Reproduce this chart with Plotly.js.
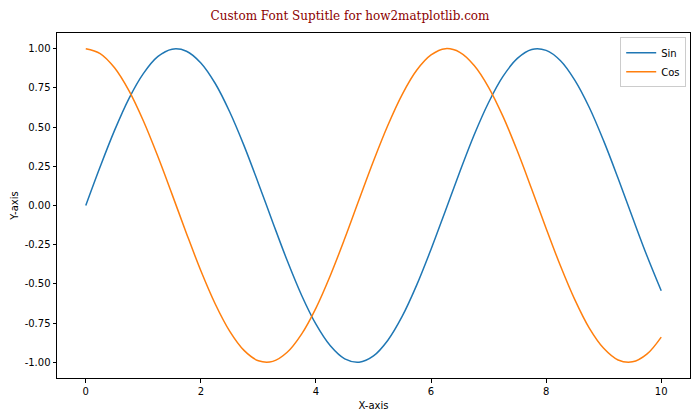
<!DOCTYPE html>
<html>
<head>
<meta charset="utf-8">
<script src="https://cdn.plot.ly/plotly-3.0.1.min.js"></script>
<style>body{margin:0;padding:0;background:#fff}#chart{width:700px;height:420px}</style>
</head>
<body>
<div id="chart"></div>
<script>
const xValues = [0,0.25,0.5,0.75,1,1.25,1.5,1.75,2,2.25,2.5,2.75,3,3.25,3.5,3.75,4,4.25,4.5,4.75,5,5.25,5.5,5.75,6,6.25,6.5,6.75,7,7.25,7.5,7.75,8,8.25,8.5,8.75,9,9.25,9.5,9.75,10];
const sinValues = [0,0.247,0.479,0.682,0.841,0.949,0.997,0.984,0.909,0.778,0.598,0.382,0.141,-0.108,-0.351,-0.572,-0.757,-0.895,-0.978,-0.999,-0.959,-0.859,-0.706,-0.508,-0.279,-0.033,0.215,0.451,0.657,0.823,0.938,0.995,0.989,0.923,0.798,0.625,0.412,0.174,-0.075,-0.319,-0.544];
const cosValues = [1,0.969,0.878,0.732,0.540,0.315,0.071,-0.178,-0.416,-0.628,-0.801,-0.924,-0.990,-0.994,-0.936,-0.820,-0.654,-0.446,-0.211,0.038,0.284,0.512,0.709,0.862,0.960,1.000,0.977,0.893,0.754,0.568,0.347,0.104,-0.146,-0.386,-0.602,-0.782,-0.911,-0.985,-0.997,-0.948,-0.839];
const seriesNames = ["Sin", "Cos"];
const yTickVals = [-1,-0.75,-0.5,-0.25,0,0.25,0.5,0.75,1];
const yTickText = ["-1.00","-0.75","-0.50","-0.25","0.00","0.25","0.50","0.75","1.00"];
const xTickVals = [0,2,4,6,8,10];

const traces = [
  {x: xValues, y: sinValues, name: seriesNames[0], mode: 'lines', line: {color: '#1f77b4', width: 1.5, shape: 'spline', smoothing: 1}},
  {x: xValues, y: cosValues, name: seriesNames[1], mode: 'lines', line: {color: '#ff7f0e', width: 1.5, shape: 'spline', smoothing: 1}}
];
const axisCommon = {
  showgrid: false, zeroline: false, showline: true, mirror: true,
  linecolor: '#000', linewidth: 1, ticks: 'outside', ticklen: 3.5, tickwidth: 1, tickcolor: '#000',
  tickfont: {family: 'DejaVu Sans', size: 10, color: '#000'}
};
const layout = {
  width: 700, height: 420,
  margin: {l: 57, r: 10, t: 33, b: 42},
  paper_bgcolor: '#fff', plot_bgcolor: '#fff',
  title: {text: 'Custom Font Suptitle for how2matplotlib.com', font: {family: 'DejaVu Serif', size: 12, color: '#8b0000'}, x: 0.5, xanchor: 'center', y: 0.962, yanchor: 'middle'},
  xaxis: Object.assign({}, axisCommon, {range: [-0.5, 10.5], tickvals: xTickVals,
    title: {text: 'X-axis', font: {family: 'DejaVu Sans', size: 10, color: '#000'}, standoff: 6}}),
  yaxis: Object.assign({}, axisCommon, {range: [-1.1, 1.1], tickvals: yTickVals, ticktext: yTickText,
    title: {text: 'Y-axis', font: {family: 'DejaVu Sans', size: 10, color: '#000'}, standoff: 4}}),
  legend: {x: 0.994, y: 0.988, xanchor: 'right', yanchor: 'top', bordercolor: '#cccccc', borderwidth: 1,
    bgcolor: 'rgba(255,255,255,0.8)', font: {family: 'DejaVu Sans', size: 10, color: '#000'}},
  showlegend: true
};
Plotly.newPlot('chart', traces, layout, {displayModeBar: false, staticPlot: true});
</script>
</body>
</html>
